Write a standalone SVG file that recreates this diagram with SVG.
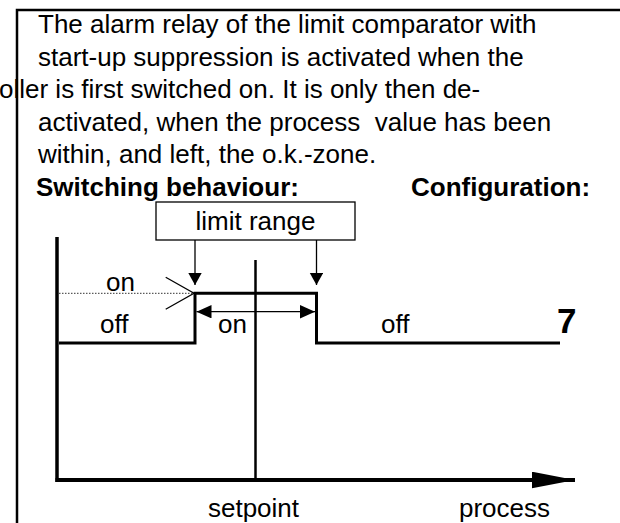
<svg xmlns="http://www.w3.org/2000/svg" width="620" height="523" viewBox="0 0 620 523">
<style>
text{font-family:"Liberation Sans",Arial,sans-serif;font-size:26px;fill:#000}
.b{font-weight:bold}
.thin{stroke:#000;stroke-width:1.3;fill:none}
.thick{stroke:#000;stroke-width:3;fill:none}
</style>
<defs>
<marker id="ah" markerUnits="userSpaceOnUse" markerWidth="14" markerHeight="14" refX="12" refY="6.7" orient="auto-start-reverse">
<path d="M0,0 L12,6.7 L0,13.4 z" fill="#000"/>
</marker>
<marker id="ah2" markerUnits="userSpaceOnUse" markerWidth="16" markerHeight="14" refX="15" refY="6.7" orient="auto-start-reverse">
<path d="M0,0 L15,6.7 L0,13.4 z" fill="#000"/>
</marker>
<marker id="axis" markerUnits="userSpaceOnUse" markerWidth="44" markerHeight="18" refX="43" refY="8.3" orient="auto">
<path d="M0,0 L43,8.3 L0,16.6 z" fill="#000"/>
</marker>
</defs>
<g id="frame">
<path d="M17,523 V10 H622" stroke="#000" stroke-width="2.5" fill="none"/>
</g>
<g id="description">
<text x="38" y="33">The alarm relay of the limit comparator with</text>
<text x="38" y="65.5">start-up suppression is activated when the</text>
<text x="-1" y="98">oller is first switched on. It is only then de-</text>
<text x="38" y="130.5" xml:space="preserve">activated, when the process  value has been</text>
<text x="38" y="163">within, and left, the o.k.-zone.</text>
<text class="b" x="36" y="195.5">Switching behaviour:</text>
<text class="b" x="411" y="195.5">Configuration:</text>
</g>
<g id="limit-range">
<rect x="156" y="202" width="199" height="38" fill="#fff" stroke="#000" stroke-width="1.3"/>
<text x="255.5" y="230" text-anchor="middle">limit range</text>
</g>
<g id="axes">
<line x1="57" y1="237" x2="57" y2="482" stroke="#000" stroke-width="3.5"/>
<line x1="255.5" y1="260" x2="255.5" y2="480" stroke="#000" stroke-width="2.5"/>
<line x1="55.5" y1="480" x2="575" y2="480" stroke="#000" stroke-width="4" marker-end="url(#axis)"/>
<text x="253.5" y="517" text-anchor="middle">setpoint</text>
<text x="504.5" y="517" text-anchor="middle">process</text>
</g>
<g id="signal">
<line x1="59" y1="293.3" x2="194" y2="293.3" stroke="#333" stroke-width="1" stroke-dasharray="1.5 1.5"/>
<path class="thick" d="M59,343 H195 V293.3 H316.5 V343 H560"/>
<text x="106" y="290.5">on</text>
<text x="100" y="333">off</text>
<text x="218" y="333">on</text>
<text x="381" y="333">off</text>
<text class="b" x="557" y="333" style="font-size:35px">7</text>
</g>
<g id="connectors">
<line class="thin" x1="195" y1="240" x2="195" y2="285" marker-end="url(#ah)"/>
<line class="thin" x1="316.5" y1="240" x2="316.5" y2="285" marker-end="url(#ah)"/>
<line class="thin" x1="196.5" y1="311.7" x2="315" y2="311.7" marker-start="url(#ah2)" marker-end="url(#ah2)"/>
<path class="thin" d="M165.7,277.3 L194,293.3 L165.7,309.3"/>
</g>
</svg>
